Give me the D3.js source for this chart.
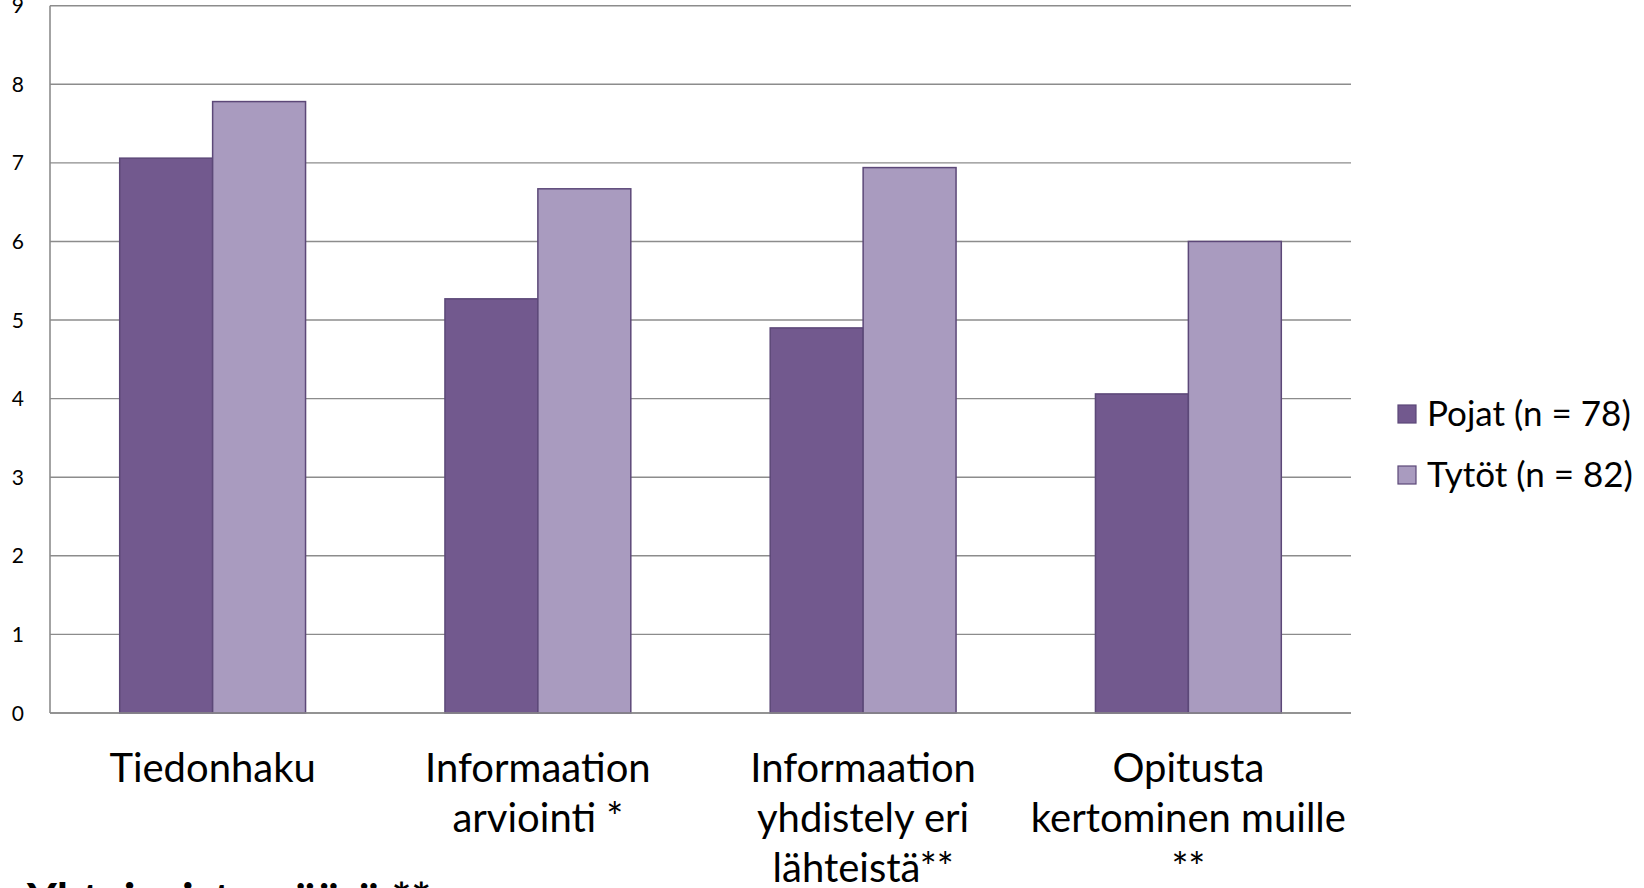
<!DOCTYPE html>
<html><head><meta charset="utf-8">
<script src="https://cdn.jsdelivr.net/npm/d3@7"></script>
<style>html,body{margin:0;padding:0;background:#fff;overflow:hidden}svg{display:block}</style>
</head><body>
<svg id="c" width="1644" height="888"></svg>
<script>
const categories = ["Tiedonhaku", "Informaation arviointi *", "Informaation yhdistely eri lähteistä**", "Opitusta kertominen muille **"];
const categoryLines = [["Tiedonhaku"], ["Informaation", "arviointi *"], ["Informaation", "yhdistely eri", "lähteistä**"], ["Opitusta", "kertominen muille", "**"]];
const seriesNames = ["Pojat (n = 78)", "Tytöt (n = 82)"];
const pojat = [7.06, 5.27, 4.90, 4.06];
const tytot = [7.78, 6.67, 6.94, 6.00];
const yTicks = [0, 1, 2, 3, 4, 5, 6, 7, 8, 9];
const footnote = "Yhteispistemäärä **";

const colors = ["#72598E", "#A99BBF"];
const FONT = "Lato, 'Open Sans', sans-serif";
const svg = d3.select("#c");

const x0 = d3.scaleBand().domain(categories).range([50, 1351]).paddingInner(0).paddingOuter(0);
const x1 = d3.scaleBand().domain(seriesNames).range([0, x0.bandwidth()]).paddingInner(0).paddingOuter(0.75);
const y = d3.scaleLinear().domain([0, 9]).range([713, 5.7]);

// gridlines
svg.append("g").selectAll("line").data(yTicks).join("line")
  .attr("x1", 50).attr("x2", 1351)
  .attr("y1", d => y(d)).attr("y2", d => y(d))
  .attr("stroke", "#8c8c8c").attr("stroke-width", 1.4);
// vertical axis
svg.append("line").attr("x1", 50).attr("x2", 50).attr("y1", y(9)).attr("y2", y(0))
  .attr("stroke", "#8c8c8c").attr("stroke-width", 1.6);

// y tick labels
svg.append("g").selectAll("text").data(yTicks).join("text")
  .attr("x", 24).attr("y", d => y(d)).attr("dy", "0.36em")
  .attr("text-anchor", "end").attr("font-family", FONT).attr("font-size", 21).attr("fill", "#000")
  .text(d => d);

// bars
const data = categories.map((c, i) => ({c, vals: [pojat[i], tytot[i]]}));
const g = svg.append("g").selectAll("g").data(data).join("g")
  .attr("transform", d => `translate(${x0(d.c)},0)`);
g.selectAll("rect").data(d => d.vals.map((v, j) => ({s: seriesNames[j], v, j}))).join("rect")
  .attr("x", d => x1(d.s)).attr("width", x1.bandwidth())
  .attr("y", d => y(d.v)).attr("height", d => y(0) - y(d.v))
  .attr("fill", d => colors[d.j]).attr("stroke", "#5c4878").attr("stroke-width", 1.5);

// baseline
svg.append("line").attr("x1", 50).attr("x2", 1351).attr("y1", y(0)).attr("y2", y(0))
  .attr("stroke", "#8c8c8c").attr("stroke-width", 1.6);

// category labels
const lab = svg.append("g").selectAll("text").data(categories).join("text")
  .attr("text-anchor", "middle").attr("font-family", FONT).attr("font-size", 40).attr("fill", "#000");
lab.each(function(c, i) {
  const t = d3.select(this);
  categoryLines[i].forEach((ln, k) => {
    t.append("tspan").attr("x", x0(c) + x0.bandwidth() / 2).attr("y", 782 + k * 50).text(ln);
  });
});

// legend
const leg = svg.append("g").selectAll("g").data(seriesNames).join("g")
  .attr("transform", (d, i) => `translate(1398,${405 + i * 61})`);
leg.append("rect").attr("width", 18).attr("height", 18)
  .attr("fill", (d, i) => colors[i]).attr("stroke", "#5c4878").attr("stroke-width", 1.2);
leg.append("text").attr("x", 29).attr("y", 21).attr("font-family", FONT).attr("font-size", 35).attr("fill", "#000")
  .text(d => d);

// footnote (cut off at the bottom, as in the reference)
svg.append("text").attr("x", 27).attr("y", 916).attr("font-family", FONT).attr("font-weight", "bold")
  .attr("font-size", 46).attr("fill", "#000").text(footnote);
</script>
</body></html>
